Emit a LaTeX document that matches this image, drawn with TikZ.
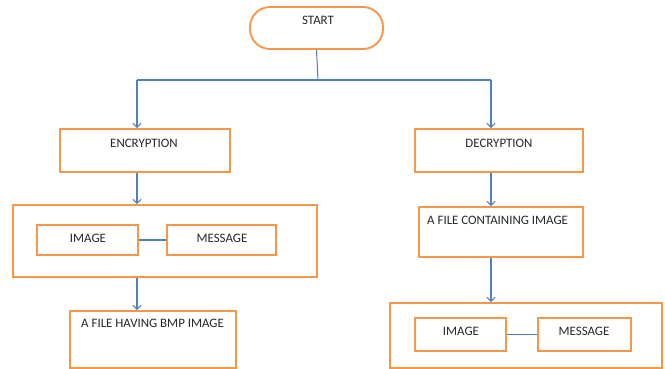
\documentclass[tikz,border=0pt]{standalone}
\usepackage{fontspec}
\setmainfont{Carlito}
\usetikzlibrary{arrows.meta, fit}

\definecolor{boxorange}{RGB}{247,150,70}
\definecolor{lineblue}{RGB}{79,129,189}

\newcommand{\pxs}[0]{0.03}

\begin{document}
\begin{tikzpicture}[x=\pxs cm, y=-\pxs cm,
  box/.style={draw=boxorange, line width=1.6pt, inner sep=0pt},
  txt/.style={font=\fontsize{11}{13}\selectfont, text=black!85, inner sep=0pt},
  conn/.style={draw=lineblue, line width=0.9pt},
  arr/.style={conn, -{Straight Barb[length=3.5pt,width=7pt,line width=0.9pt]}}]

\useasboundingbox (0,0) rectangle (665,369);

% boxes
\node[box, rounded corners=0.6cm, fit={(250,7) (383,49)}] (start) {};
\node[box, fit={(60,129) (230,172)}] (enc) {};
\node[box, fit={(415,129) (583,172)}] (dec) {};
\node[box, fit={(13,205) (317,277)}] (encgrp) {};
\node[box, fit={(37,225) (138,255)}] (encimg) {};
\node[box, fit={(167,225) (276,255)}] (encmsg) {};
\node[box, fit={(70,311) (236,368)}] (bmp) {};
\node[box, fit={(419,207) (583,257)}] (file) {};
\node[box, fit={(390,303) (662,368)}] (decgrp) {};
\node[box, fit={(415,318) (506,351)}] (decimg) {};
\node[box, fit={(538,318) (631,351)}] (decmsg) {};

% texts
\node[txt] (starttxt) at (318,20) {START};
\node[txt] (enctxt) at (144,143) {ENCRYPTION};
\node[txt] (dectxt) at (499,143) {DECRYPTION};
\node[txt] (encimgtxt) at (88,238) {IMAGE};
\node[txt] (encmsgtxt) at (222,238) {MESSAGE};
\node[txt, anchor=west] (bmptxt) at (81,323) {A FILE HAVING BMP IMAGE};
\node[txt, anchor=west] (filetxt) at (427,220) {A FILE CONTAINING IMAGE};
\node[txt] (decimgtxt) at (461,331) {IMAGE};
\node[txt] (decmsgtxt) at (584,331) {MESSAGE};

% connectors
\coordinate (split) at (318,80);
\coordinate (lcol) at (137,80);
\coordinate (rcol) at (491,80);

\draw[conn] (start.south) -- (split);
\draw[conn] (lcol) -- (rcol);
\draw[arr] (lcol) -- (lcol |- enc.north);
\draw[arr] (rcol) -- (rcol |- dec.north);

\draw[arr] (lcol |- enc.south) -- (lcol |- encgrp.north);
\draw[arr] (lcol |- encgrp.south) -- (lcol |- bmp.north);
\draw[arr] (rcol |- dec.south) -- (rcol |- file.north);
\draw[arr] (rcol |- file.south) -- (rcol |- decgrp.north);

\draw[conn] (encimg.east) -- (encmsg.west);
\draw[conn] (decimg.east) -- (decmsg.west);

\end{tikzpicture}
\end{document}
